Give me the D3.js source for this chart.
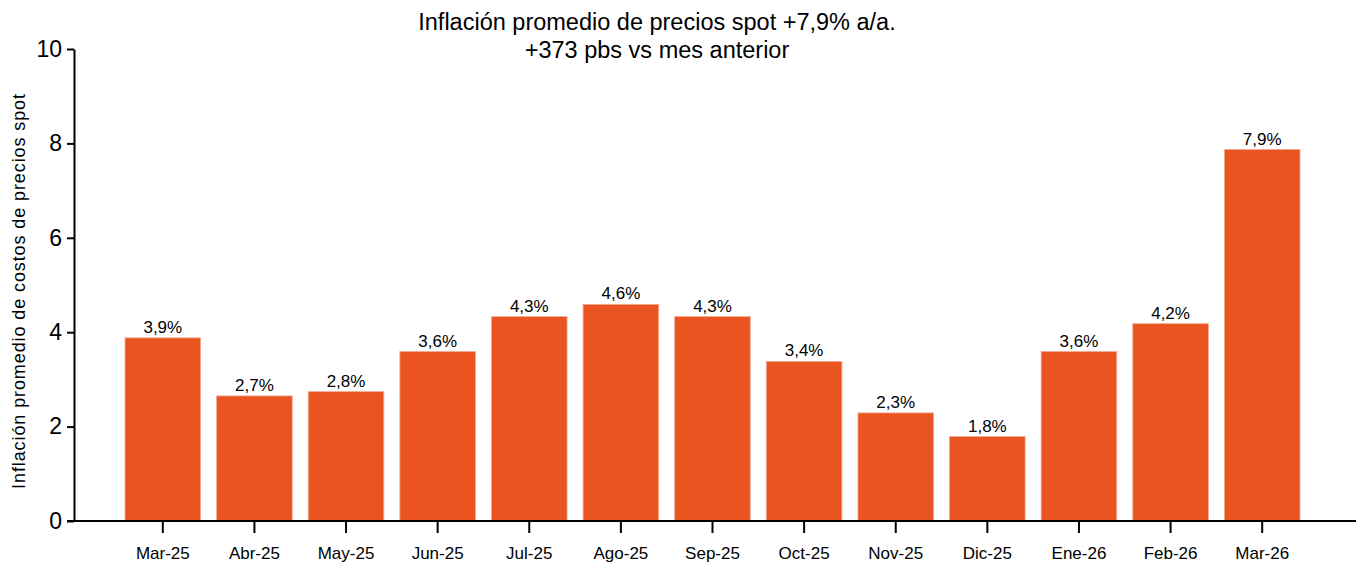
<!DOCTYPE html>
<html>
<head>
<meta charset="utf-8">
<script src="https://cdn.jsdelivr.net/npm/d3@7"></script>
<style>
  body { margin: 0; background: #fff; }
  text { font-family: "Liberation Sans", Arial, sans-serif; fill: #000; }
</style>
</head>
<body>
<div id="chart"></div>
<script>
const months = ["Mar-25", "Abr-25", "May-25", "Jun-25", "Jul-25", "Ago-25", "Sep-25",
                "Oct-25", "Nov-25", "Dic-25", "Ene-26", "Feb-26", "Mar-26"];
const values = [3.88, 2.65, 2.74, 3.59, 4.33, 4.59, 4.33, 3.38, 2.29, 1.79, 3.59, 4.18, 7.87];
const valueLabels = ["3,9%", "2,7%", "2,8%", "3,6%", "4,3%", "4,6%", "4,3%",
                     "3,4%", "2,3%", "1,8%", "3,6%", "4,2%", "7,9%"];
const yTicks = [0, 2, 4, 6, 8, 10];

const width = 1356, height = 564;

const svg = d3.select("#chart").append("svg")
    .attr("width", width)
    .attr("height", height);

const x = d3.scaleBand()
    .domain(months)
    .range([117, 1308])
    .paddingInner(0.175)
    .paddingOuter(0.0875);

const y = d3.scaleLinear()
    .domain([0, 10])
    .range([521, 49]);

// bars
svg.selectAll(".bar")
    .data(values)
    .enter().append("rect")
    .attr("class", "bar")
    .attr("x", (d, i) => x(months[i]))
    .attr("y", d => y(d))
    .attr("width", x.bandwidth())
    .attr("height", d => y(0) - y(d))
    .attr("fill", "#ea5420")
    .attr("stroke", "#f2a98f")
    .attr("stroke-width", 0.8);

// value labels
svg.selectAll(".vlabel")
    .data(values)
    .enter().append("text")
    .attr("class", "vlabel")
    .attr("x", (d, i) => x(months[i]) + x.bandwidth() / 2)
    .attr("y", d => y(d) - 5)
    .attr("text-anchor", "middle")
    .style("font-size", "17px")
    .text((d, i) => valueLabels[i]);

// y axis
const yAxis = svg.append("g")
    .attr("transform", "translate(74,0)")
    .call(d3.axisLeft(y).tickValues(yTicks).tickSize(7).tickPadding(5).tickSizeOuter(0));
yAxis.select(".domain").attr("stroke", "#000").attr("stroke-width", 2);
yAxis.selectAll(".tick line").attr("stroke", "#000").attr("stroke-width", 2);
yAxis.selectAll(".tick text").style("font-size", "23px").attr("font-family", null);

// x axis
const xAxis = svg.append("g")
    .attr("transform", `translate(0,${y(0)})`)
    .call(d3.axisBottom(x).tickSize(12).tickPadding(14).tickSizeOuter(0));
xAxis.select(".domain").attr("d", `M67,0H${width}`).attr("stroke", "#000").attr("stroke-width", 2);
xAxis.selectAll(".tick line").attr("stroke", "#000").attr("stroke-width", 2);
xAxis.selectAll(".tick text").style("font-size", "17px").attr("font-family", null);

// y axis title
svg.append("text")
    .attr("transform", "translate(25,291) rotate(-90)")
    .attr("text-anchor", "middle")
    .style("font-size", "18px")
    .style("letter-spacing", "0.9px")
    .text("Inflación promedio de costos de precios spot");

// title
const title = svg.append("text")
    .attr("text-anchor", "middle")
    .style("font-size", "23.5px");
title.append("tspan").attr("x", 657).attr("y", 30)
    .text("Inflación promedio de precios spot +7,9% a/a.");
title.append("tspan").attr("x", 657).attr("y", 58)
    .text("+373 pbs vs mes anterior");
</script>
</body>
</html>
